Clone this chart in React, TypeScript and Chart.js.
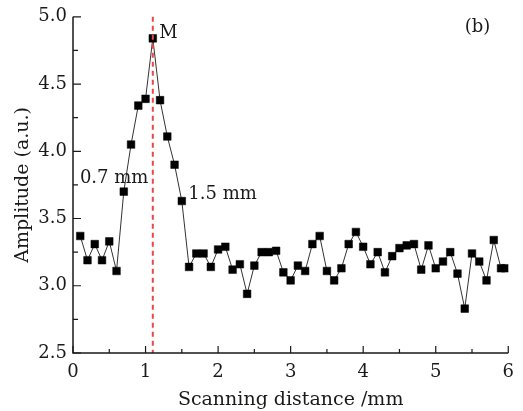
import React, { useEffect, useRef } from "react";
import { Chart, registerables } from "chart.js";

Chart.register(...registerables);

const xValues = [
  0.1, 0.2, 0.3, 0.4, 0.5, 0.6, 0.7, 0.8, 0.9, 1.0,
  1.1, 1.2, 1.3, 1.4, 1.5, 1.6, 1.7, 1.8, 1.9, 2.0,
  2.1, 2.2, 2.3, 2.4, 2.5, 2.6, 2.7, 2.8, 2.9, 3.0,
  3.1, 3.2, 3.3, 3.4, 3.5, 3.6, 3.7, 3.8, 3.9, 4.0,
  4.1, 4.2, 4.3, 4.4, 4.5, 4.6, 4.7, 4.8, 4.9, 5.0,
  5.1, 5.2, 5.3, 5.4, 5.5, 5.6, 5.7, 5.8, 5.9, 5.96,
];
const amplitude = [
  3.37, 3.19, 3.31, 3.19, 3.33, 3.11, 3.70, 4.05, 4.34, 4.39,
  4.84, 4.38, 4.11, 3.90, 3.63, 3.14, 3.24, 3.24, 3.14, 3.27,
  3.29, 3.12, 3.16, 2.94, 3.15, 3.25, 3.25, 3.26, 3.10, 3.04,
  3.15, 3.11, 3.31, 3.37, 3.11, 3.04, 3.13, 3.31, 3.40, 3.29,
  3.16, 3.25, 3.10, 3.22, 3.28, 3.30, 3.31, 3.12, 3.30, 3.13,
  3.18, 3.25, 3.09, 2.83, 3.24, 3.18, 3.04, 3.34, 3.13, 3.13,
];
const markerX = 1.1;
const xTickValues = [0, 1, 2, 3, 4, 5, 6];
const yTickValues = [2.5, 3.0, 3.5, 4.0, 4.5, 5.0];
const annotations = [
  { text: "M", x: 1.19, y: 4.878 },
  { text: "0.7 mm", x: 0.095, y: 3.797 },
  { text: "1.5 mm", x: 1.59, y: 3.679 },
  { text: "(b)", x: 5.4, y: 4.919 },
];

const FONT = "'DejaVu Serif', serif";
const INK = "#1a1a1a";

const axesPlugin = {
  id: "customAxes",
  afterDatasetsDraw(chart: any) {
    const { ctx, chartArea, scales } = chart;
    const xs = scales.x;
    const ys = scales.y;
    ctx.save();
    // dashed red marker line
    ctx.strokeStyle = "#e9474b";
    ctx.lineWidth = 2;
    ctx.setLineDash([5, 4]);
    const mx = xs.getPixelForValue(markerX);
    ctx.beginPath();
    ctx.moveTo(mx, chartArea.top);
    ctx.lineTo(mx, chartArea.bottom);
    ctx.stroke();
    ctx.setLineDash([]);

    // axis lines
    ctx.strokeStyle = INK;
    ctx.lineWidth = 1.5;
    ctx.beginPath();
    ctx.moveTo(chartArea.left, chartArea.top);
    ctx.lineTo(chartArea.left, chartArea.bottom);
    ctx.lineTo(chartArea.right, chartArea.bottom);
    ctx.stroke();

    // x ticks (inside, upward)
    ctx.lineWidth = 1.2;
    ctx.beginPath();
    for (let v = 0; v <= 6.0001; v += 0.5) {
      const px = xs.getPixelForValue(v);
      const major = Math.abs(v - Math.round(v)) < 1e-6;
      const len = major ? 7 : 4;
      ctx.moveTo(px, chartArea.bottom);
      ctx.lineTo(px, chartArea.bottom - len);
    }
    // y ticks (inside, rightward)
    for (let v = 2.5; v <= 5.0001; v += 0.25) {
      const py = ys.getPixelForValue(v);
      const major = Math.abs(v * 2 - Math.round(v * 2)) < 1e-6;
      const len = major ? 8 : 5;
      ctx.moveTo(chartArea.left, py);
      ctx.lineTo(chartArea.left + len, py);
    }
    ctx.stroke();

    // text annotations
    ctx.fillStyle = INK;
    ctx.font = `18px ${FONT}`;
    ctx.textAlign = "left";
    ctx.textBaseline = "middle";
    for (const a of annotations) {
      ctx.fillText(a.text, xs.getPixelForValue(a.x), ys.getPixelForValue(a.y));
    }
    ctx.restore();
  },
};

export default function App() {
  const ref = useRef<HTMLCanvasElement>(null);
  useEffect(() => {
    if (!ref.current) return;
    const chart = new Chart(ref.current, {
      type: "line",
      data: {
        datasets: [
          {
            data: xValues.map((x, i) => ({ x, y: amplitude[i] })),
            borderColor: "#333333",
            borderWidth: 1,
            pointStyle: "rect",
            pointRadius: 5.4,
            pointBackgroundColor: "#000000",
            pointBorderColor: "#000000",
            pointBorderWidth: 0.5,
            tension: 0,
          },
        ],
      },
      options: {
        responsive: false,
        animation: false,
        layout: { padding: { left: 0, top: 14, right: 12, bottom: 0 } },
        plugins: { legend: { display: false }, tooltip: { enabled: false } },
        scales: {
          x: {
            type: "linear",
            min: 0,
            max: 6,
            afterBuildTicks: (s: any) => {
              s.ticks = xTickValues.map((v) => ({ value: v }));
            },
            afterFit: (s: any) => {
              s.height = 58;
            },
            grid: { display: false, drawTicks: false },
            border: { display: false },
            ticks: {
              color: INK,
              font: { family: FONT, size: 18 },
              padding: 9,
              maxRotation: 0,
              callback: (v: any) => String(v),
            },
            title: {
              display: true,
              text: "Scanning distance /mm",
              color: INK,
              font: { family: FONT, size: 19 },
              padding: { top: 0, bottom: 0 },
            },
          },
          y: {
            type: "linear",
            min: 2.5,
            max: 5.0,
            afterBuildTicks: (s: any) => {
              s.ticks = yTickValues.map((v) => ({ value: v }));
            },
            afterFit: (s: any) => {
              s.width = 73;
            },
            grid: { display: false, drawTicks: false },
            border: { display: false },
            ticks: {
              color: INK,
              font: { family: FONT, size: 18 },
              padding: 6,
              callback: (v: any) => Number(v).toFixed(1),
            },
            title: {
              display: true,
              text: "Amplitude (a.u.)",
              color: INK,
              font: { family: FONT, size: 19 },
              padding: { top: 12, bottom: 0 },
            },
          },
        },
      },
      plugins: [axesPlugin],
    });
    return () => chart.destroy();
  }, []);
  return (
    <div style={{ position: "absolute", left: 0, top: 0, width: 523, height: 411, background: "#fff" }}>
      <canvas ref={ref} width={523} height={411} />
    </div>
  );
}
